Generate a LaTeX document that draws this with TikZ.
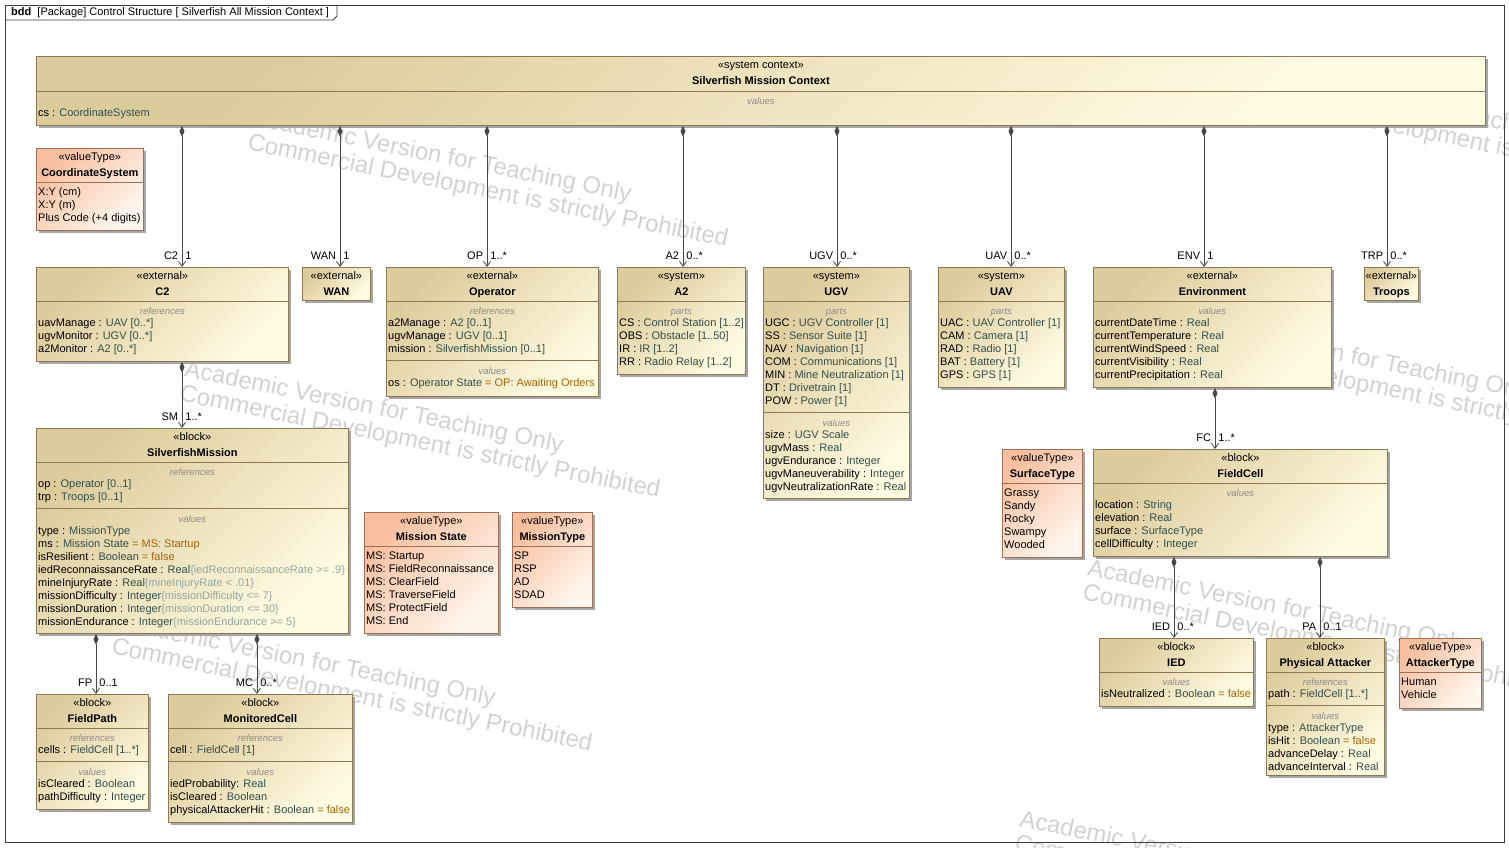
\documentclass[tikz,border=0pt]{standalone}
\usepackage{fontspec}
\setmainfont{Liberation Sans}
\usepackage{xcolor}
\usetikzlibrary{positioning,shadows,arrows.meta}

\definecolor{blocktop}{HTML}{DCCB9B}
\definecolor{blockbot}{HTML}{FFFCE2}
\definecolor{vttop}{HTML}{F8BF9F}
\definecolor{vtbot}{HTML}{FFF7EE}
\definecolor{blockline}{HTML}{8E7852}
\definecolor{vtline}{HTML}{9E6E55}
\definecolor{typecol}{HTML}{34504A}
\definecolor{valcol}{HTML}{A8640A}
\definecolor{cstrcol}{HTML}{93A8A0}
\definecolor{lblcol}{HTML}{8C8C8C}
\definecolor{wmcol}{HTML}{D2D2D2}
\definecolor{linkcol}{HTML}{474747}
\definecolor{framecol}{HTML}{3C3C3C}

\newcommand{\tyc}[1]{\textcolor{typecol}{#1}}
\newcommand{\dvc}[1]{\textcolor{valcol}{#1}}
\newcommand{\cstr}[1]{\textcolor{cstrcol}{#1}}

\tikzset{
	block/.style={draw=blockline, line width=0.8pt, anchor=north west, inner sep=0pt,
		top color=blocktop, bottom color=blockbot, shading angle=45,
		drop shadow={shadow xshift=2.5pt, shadow yshift=-2.5pt, fill=black!35, opacity=1}},
	valtype/.style={block, draw=vtline, top color=vttop, bottom color=vtbot, shading angle=45},
	head/.style={anchor=north, yshift=-1.3pt, inner sep=0pt, align=center, font=\fontsize{11}{16}\selectfont},
	rows/.style={anchor=north west, xshift=2pt, yshift=5.1pt, inner sep=0pt, align=left, font=\fontsize{11}{13}\selectfont},
	clabel/.style={inner sep=0pt, text height=6.5pt, text depth=0pt, text=lblcol, font=\itshape\fontsize{9.5}{11}\selectfont},
	sepl/.style={draw=blockline, line width=0.8pt},
	vsepl/.style={draw=vtline, line width=0.8pt},
	framel/.style={draw=framecol, line width=0.8pt},
	comp/.style={draw=linkcol, line width=0.8pt, {Diamond[length=11pt,width=5pt]}-{Straight Barb[length=5pt,width=7pt]}},
	rolel/.style={anchor=south east, xshift=-3.5pt, yshift=7pt, inner sep=0pt, text height=8pt, text depth=0pt, font=\fontsize{11}{13}\selectfont},
	multr/.style={anchor=south west, xshift=3pt, yshift=7pt, inner sep=0pt, text height=8pt, text depth=0pt, font=\fontsize{11}{13}\selectfont},
	wmark/.style={anchor=north west, rotate=-11.4, align=left, inner sep=0pt, text=wmcol, font=\fontsize{24}{25}\selectfont}
}

\begin{document}
\begin{tikzpicture}[x=1pt,y=-1pt]
\useasboundingbox (0,0) rectangle (1509,847);

% watermark
\begin{scope}
\clip (0,0) rectangle (1509,847);
\foreach \wx/\wy [count=\wi] in {255/108,187/359,119/612,1090/558,1158/307,1226/56,1022/809}{
	\node[wmark] (wm\wi) at (\wx,\wy) {\strut Academic Version for Teaching Only\\Commercial Development is strictly Prohibited};
}
\end{scope}

% frame
\draw[framel] (5,5) rectangle (1504,842);
\draw[framel] (5,20) -- (333,20) -- (337,16) -- (337,5);
\node[anchor=west, inner sep=0pt, font=\fontsize{11}{13}\selectfont] (title) at (11,13) {\textbf{bdd}\ \ [Package] Control Structure [ Silverfish All Mission Context ]};

% context
\node[block, minimum width=1449pt, minimum height=69pt] (ctx) at (36,56) {};
\node[head] (ctxh) at (ctx.north) {\strut«system context»\\\textbf{Silverfish Mission Context}};
\draw[sepl] (ctx.west |- 0,91) -- (ctx.east |- 0,91);
\node[clabel] (ctxl) at (ctx.center |- 0,101) {values};
\node[rows] (ctxv) at (ctx.west |- 0,112) {\strut cs : \tyc{CoordinateSystem}};

% coordinate system
\node[valtype, minimum width=107pt, minimum height=82pt] (cosys) at (36,148) {};
\node[head] (cosysh) at (cosys.north) {\strut«valueType»\\\textbf{CoordinateSystem}};
\draw[vsepl] (cosys.west |- 0,182) -- (cosys.east |- 0,182);
\node[rows] (cosysv) at (cosys.west |- 0,191) {\strut X:Y (cm)\\X:Y (m)\\Plus Code (+4 digits)};

% C2
\node[block, minimum width=252pt, minimum height=94pt] (c2) at (36,267) {};
\node[head] (c2h) at (c2.north) {\strut«external»\\\textbf{C2}};
\draw[sepl] (c2.west |- 0,301) -- (c2.east |- 0,301);
\node[clabel] (c2l) at (c2.center |- 0,311) {references};
\node[rows] (c2r) at (c2.west |- 0,322) {\strut uavManage : \tyc{UAV [0..*]}\\ugvMonitor : \tyc{UGV [0..*]}\\a2Monitor : \tyc{A2 [0..*]}};

% WAN
\node[block, minimum width=68pt, minimum height=33pt] (wan) at (302,267) {};
\node[head] (wanh) at (wan.north) {\strut«external»\\\textbf{WAN}};

% operator
\node[block, minimum width=212pt, minimum height=129pt] (oper) at (386,267) {};
\node[head] (operh) at (oper.north) {\strut«external»\\\textbf{Operator}};
\draw[sepl] (oper.west |- 0,301) -- (oper.east |- 0,301);
\node[clabel] (operl) at (oper.center |- 0,311) {references};
\node[rows] (operr) at (oper.west |- 0,322) {\strut a2Manage : \tyc{A2 [0..1]}\\ugvManage : \tyc{UGV [0..1]}\\mission : \tyc{SilverfishMission [0..1]}};
\draw[sepl] (oper.west |- 0,360) -- (oper.east |- 0,360);
\node[clabel] (operl2) at (oper.center |- 0,371) {values};
\node[rows] (operv) at (oper.west |- 0,382) {\strut os : \tyc{Operator State} \dvc{= OP: Awaiting Orders}};

% A2
\node[block, minimum width=128pt, minimum height=107pt] (a2) at (617,267) {};
\node[head] (a2h) at (a2.north) {\strut«system»\\\textbf{A2}};
\draw[sepl] (a2.west |- 0,301) -- (a2.east |- 0,301);
\node[clabel] (a2l) at (a2.center |- 0,311) {parts};
\node[rows] (a2p) at (a2.west |- 0,322) {\strut CS : \tyc{Control Station [1..2]}\\OBS : \tyc{Obstacle [1..50]}\\IR : \tyc{IR [1..2]}\\RR : \tyc{Radio Relay [1..2]}};

% UGV
\node[block, minimum width=146pt, minimum height=231pt] (ugv) at (763,267) {};
\node[head] (ugvh) at (ugv.north) {\strut«system»\\\textbf{UGV}};
\draw[sepl] (ugv.west |- 0,301) -- (ugv.east |- 0,301);
\node[clabel] (ugvl) at (ugv.center |- 0,311) {parts};
\node[rows] (ugvp) at (ugv.west |- 0,322) {\strut UGC : \tyc{UGV Controller [1]}\\SS : \tyc{Sensor Suite [1]}\\NAV : \tyc{Navigation [1]}\\COM : \tyc{Communications [1]}\\MIN : \tyc{Mine Neutralization [1]}\\DT : \tyc{Drivetrain [1]}\\POW : \tyc{Power [1]}};
\draw[sepl] (ugv.west |- 0,412) -- (ugv.east |- 0,412);
\node[clabel] (ugvl2) at (ugv.center |- 0,423) {values};
\node[rows] (ugvv) at (ugv.west |- 0,434) {\strut size : \tyc{UGV Scale}\\ugvMass : \tyc{Real}\\ugvEndurance : \tyc{Integer}\\ugvManeuverability : \tyc{Integer}\\ugvNeutralizationRate : \tyc{Real}};

% UAV
\node[block, minimum width=126pt, minimum height=120pt] (uav) at (938,267) {};
\node[head] (uavh) at (uav.north) {\strut«system»\\\textbf{UAV}};
\draw[sepl] (uav.west |- 0,301) -- (uav.east |- 0,301);
\node[clabel] (uavl) at (uav.center |- 0,311) {parts};
\node[rows] (uavp) at (uav.west |- 0,322) {\strut UAC : \tyc{UAV Controller [1]}\\CAM : \tyc{Camera [1]}\\RAD : \tyc{Radio [1]}\\BAT : \tyc{Battery [1]}\\GPS : \tyc{GPS [1]}};

% environment
\node[block, minimum width=238pt, minimum height=120pt] (env) at (1093,267) {};
\node[head] (envh) at (env.north) {\strut«external»\\\textbf{Environment}};
\draw[sepl] (env.west |- 0,301) -- (env.east |- 0,301);
\node[clabel] (envl) at (env.center |- 0,311) {values};
\node[rows] (envv) at (env.west |- 0,322) {\strut currentDateTime : \tyc{Real}\\currentTemperature : \tyc{Real}\\currentWindSpeed : \tyc{Real}\\currentVisibility : \tyc{Real}\\currentPrecipitation : \tyc{Real}};

% troops
\node[block, minimum width=54pt, minimum height=33pt] (trp) at (1364,267) {};
\node[head] (trph) at (trp.north) {\strut«external»\\\textbf{Troops}};

% mission
\node[block, minimum width=312pt, minimum height=205pt] (mission) at (36,428) {};
\node[head] (missionh) at (mission.north) {\strut«block»\\\textbf{SilverfishMission}};
\draw[sepl] (mission.west |- 0,462) -- (mission.east |- 0,462);
\node[clabel] (missionl) at (mission.center |- 0,472) {references};
\node[rows] (missionr) at (mission.west |- 0,483) {\strut op : \tyc{Operator [0..1]}\\trp : \tyc{Troops [0..1]}};
\draw[sepl] (mission.west |- 0,508) -- (mission.east |- 0,508);
\node[clabel] (missionl2) at (mission.center |- 0,519) {values};
\node[rows] (missionv) at (mission.west |- 0,530) {\strut type : \tyc{MissionType}\\ms : \tyc{Mission State} \dvc{= MS: Startup}\\isResilient : \tyc{Boolean} \dvc{= false}\\iedReconnaissanceRate : \tyc{Real}\cstr{\{iedReconnaissanceRate >= .9\}}\\mineInjuryRate : \tyc{Real}\cstr{\{mineInjuryRate < .01\}}\\missionDifficulty : \tyc{Integer}\cstr{\{missionDifficulty <= 7\}}\\missionDuration : \tyc{Integer}\cstr{\{missionDuration <= 30\}}\\missionEndurance : \tyc{Integer}\cstr{\{missionEndurance >= 5\}}};

% mission state
\node[valtype, minimum width=134pt, minimum height=121pt] (mstate) at (364,512) {};
\node[head] (mstateh) at (mstate.north) {\strut«valueType»\\\textbf{Mission State}};
\draw[vsepl] (mstate.west |- 0,546) -- (mstate.east |- 0,546);
\node[rows] (mstatev) at (mstate.west |- 0,555) {\strut MS: Startup\\MS: FieldReconnaissance\\MS: ClearField\\MS: TraverseField\\MS: ProtectField\\MS: End};

% mission type
\node[valtype, minimum width=80pt, minimum height=95pt] (mtype) at (512,512) {};
\node[head] (mtypeh) at (mtype.north) {\strut«valueType»\\\textbf{MissionType}};
\draw[vsepl] (mtype.west |- 0,546) -- (mtype.east |- 0,546);
\node[rows] (mtypev) at (mtype.west |- 0,555) {\strut SP\\RSP\\AD\\SDAD};

% field path
\node[block, minimum width=112pt, minimum height=115pt] (fpath) at (36,694) {};
\node[head] (fpathh) at (fpath.north) {\strut«block»\\\textbf{FieldPath}};
\draw[sepl] (fpath.west |- 0,728) -- (fpath.east |- 0,728);
\node[clabel] (fpathl) at (fpath.center |- 0,738) {references};
\node[rows] (fpathr) at (fpath.west |- 0,749) {\strut cells : \tyc{FieldCell [1..*]}};
\draw[sepl] (fpath.west |- 0,761) -- (fpath.east |- 0,761);
\node[clabel] (fpathl2) at (fpath.center |- 0,772) {values};
\node[rows] (fpathv) at (fpath.west |- 0,783) {\strut isCleared : \tyc{Boolean}\\pathDifficulty : \tyc{Integer}};

% monitored cell
\node[block, minimum width=184pt, minimum height=128pt] (mcell) at (168,694) {};
\node[head] (mcellh) at (mcell.north) {\strut«block»\\\textbf{MonitoredCell}};
\draw[sepl] (mcell.west |- 0,728) -- (mcell.east |- 0,728);
\node[clabel] (mcelll) at (mcell.center |- 0,738) {references};
\node[rows] (mcellr) at (mcell.west |- 0,749) {\strut cell : \tyc{FieldCell [1]}};
\draw[sepl] (mcell.west |- 0,761) -- (mcell.east |- 0,761);
\node[clabel] (mcelll2) at (mcell.center |- 0,772) {values};
\node[rows] (mcellv) at (mcell.west |- 0,783) {\strut iedProbability: \tyc{Real}\\isCleared : \tyc{Boolean}\\physicalAttackerHit : \tyc{Boolean} \dvc{= false}};

% surface type
\node[valtype, minimum width=80pt, minimum height=108pt] (surf) at (1002,449) {};
\node[head] (surfh) at (surf.north) {\strut«valueType»\\\textbf{SurfaceType}};
\draw[vsepl] (surf.west |- 0,483) -- (surf.east |- 0,483);
\node[rows] (surfv) at (surf.west |- 0,492) {\strut Grassy\\Sandy\\Rocky\\Swampy\\Wooded};

% field cell
\node[block, minimum width=294pt, minimum height=107pt] (fcell) at (1093,449) {};
\node[head] (fcellh) at (fcell.north) {\strut«block»\\\textbf{FieldCell}};
\draw[sepl] (fcell.west |- 0,483) -- (fcell.east |- 0,483);
\node[clabel] (fcelll) at (fcell.center |- 0,493) {values};
\node[rows] (fcellv) at (fcell.west |- 0,504) {\strut location : \tyc{String}\\elevation : \tyc{Real}\\surface : \tyc{SurfaceType}\\cellDifficulty : \tyc{Integer}};

% IED
\node[block, minimum width=154pt, minimum height=68pt] (ied) at (1099,638) {};
\node[head] (iedh) at (ied.north) {\strut«block»\\\textbf{IED}};
\draw[sepl] (ied.west |- 0,672) -- (ied.east |- 0,672);
\node[clabel] (iedl) at (ied.center |- 0,682) {values};
\node[rows] (iedv) at (ied.west |- 0,693) {\strut isNeutralized : \tyc{Boolean} \dvc{= false}};

% physical attacker
\node[block, minimum width=118pt, minimum height=137pt] (patt) at (1266,638) {};
\node[head] (patth) at (patt.north) {\strut«block»\\\textbf{Physical Attacker}};
\draw[sepl] (patt.west |- 0,672) -- (patt.east |- 0,672);
\node[clabel] (pattl) at (patt.center |- 0,682) {references};
\node[rows] (pattr) at (patt.west |- 0,693) {\strut path : \tyc{FieldCell [1..*]}};
\draw[sepl] (patt.west |- 0,705) -- (patt.east |- 0,705);
\node[clabel] (pattl2) at (patt.center |- 0,716) {values};
\node[rows] (pattv) at (patt.west |- 0,727) {\strut type : \tyc{AttackerType}\\isHit : \tyc{Boolean} \dvc{= false}\\advanceDelay : \tyc{Real}\\advanceInterval : \tyc{Real}};

% attacker type
\node[valtype, minimum width=82pt, minimum height=70pt] (atype) at (1399,638) {};
\node[head] (atypeh) at (atype.north) {\strut«valueType»\\\textbf{AttackerType}};
\draw[vsepl] (atype.west |- 0,672) -- (atype.east |- 0,672);
\node[rows] (atypev) at (atype.west |- 0,681) {\strut Human\\Vehicle};

% links
\foreach \src/\dst/\lx/\rl/\ml in {ctx/c2/182/C2/1, ctx/wan/340/WAN/1, ctx/oper/487/OP/1..*,
	ctx/a2/683/A2/0..*, ctx/ugv/837/UGV/0..*, ctx/uav/1011/UAV/0..*, ctx/env/1204/ENV/1,
	ctx/trp/1387/TRP/0..*, c2/mission/182/SM/1..*, mission/fpath/96/FP/0..1,
	mission/mcell/257/MC/0..*, env/fcell/1215/FC/1..*, fcell/ied/1174/IED/0..*, fcell/patt/1320/PA/0..1}{
	\draw[comp] (\src.south -| \lx,0) -- (\dst.north -| \lx,0)
		node[rolel] (rl\dst) {\rl} node[multr] (ml\dst) {\ml};
}

\end{tikzpicture}
\end{document}
